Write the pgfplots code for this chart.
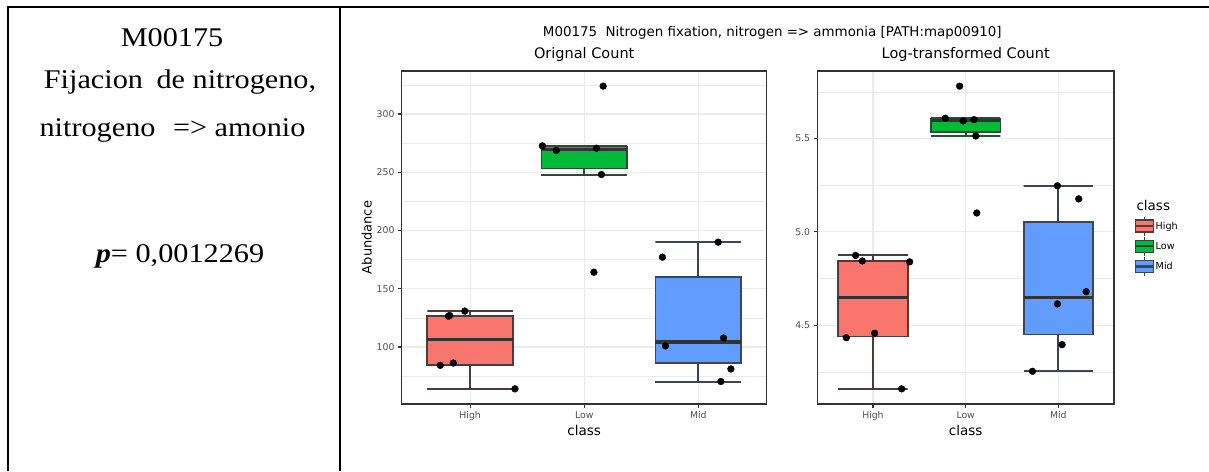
\documentclass[border=0pt]{standalone}
\usepackage{pgfplots}
\pgfplotsset{compat=1.18}
\usepackage{fontspec}
\setmainfont{Liberation Serif}
\newfontfamily\cellfont[FakeStretch=1.12]{Liberation Serif}
\newfontfamily\chartfont{DejaVu Sans}
\definecolor{hifill}{HTML}{F8766D}
\definecolor{lofill}{HTML}{00BA38}
\definecolor{midfill}{HTML}{619CFF}
\definecolor{hibord}{HTML}{4E3A3A}
\definecolor{lobord}{HTML}{2A4A33}
\definecolor{midbord}{HTML}{3B4759}
\definecolor{c333}{HTML}{333333}
\definecolor{c4d}{HTML}{4D4D4D}
\definecolor{gridc}{HTML}{EBEBEB}

\pgfplotsset{
  ggbox/.style={
    scale only axis, height=333pt,
    xmin=0.4, xmax=3.6, xtick={1,2,3}, xticklabels={High,Low,Mid},
    tick pos=left, tick align=outside, major tick length=3.7pt, minor tick length=0pt,
    axis line style={draw=c333, line width=1.5pt},
    tick style={draw=c333, line width=1.2pt},
    ymajorgrids, yminorgrids, xmajorgrids,
    major grid style={draw=gridc, line width=1.2pt},
    minor grid style={draw=gridc, line width=0.6pt},
    ticklabel style={font=\chartfont\fontsize{9.3}{10}\selectfont, text=c4d},
    clip=false,
  },
  wh/.style={forget plot, line width=2pt, line join=miter},
  bx/.style={forget plot, line width=1.8pt},
  md/.style={forget plot, draw=c333, line width=3.2pt},
  dots/.style={forget plot, only marks, mark=*, mark size=3.4pt, draw=black, fill=black, mark options={draw=black, fill=black}},
}

\begin{document}
\begin{tikzpicture}
\path[use as bounding box] (0pt,0pt) rectangle (1209pt,471pt);

% table frame
\draw[line width=2.2pt] (8pt,464pt) -- (1209pt,464pt);
\draw[line width=2.2pt] (8pt,465pt) -- (8pt,0pt);
\draw[line width=2.2pt] (340pt,465pt) -- (340pt,0pt);

% left cell text
\node[anchor=base, font=\cellfont\fontsize{27}{32}\selectfont] at (172pt,424pt) {M00175};
\node[anchor=base, font=\cellfont\fontsize{27}{32}\selectfont] at (180pt,382pt) {Fijacion\hspace{6pt} de nitrogeno,};
\node[anchor=base, font=\cellfont\fontsize{27}{32}\selectfont] at (172.5pt,334pt) {nitrogeno\hspace{10pt} => amonio};
\node[anchor=base, font=\cellfont\fontsize{27}{32}\selectfont] at (180pt,208pt) {\textbf{\textit{p}}= 0,0012269};

% overall title and labels
\node[font=\chartfont\fontsize{13.4}{15}\selectfont] at (772.3pt,438pt) {M00175\ \ Nitrogen fixation, nitrogen => ammonia [PATH:map00910]};
\node[font=\chartfont\fontsize{14.5}{16}\selectfont] at (584.2pt,416pt) {Orignal Count};
\node[font=\chartfont\fontsize{14.5}{16}\selectfont] at (965.7pt,416pt) {Log-transformed Count};
\node[rotate=90, font=\chartfont\fontsize{13}{15}\selectfont] at (366.7pt,233.5pt) {Abundance};
\node[font=\chartfont\fontsize{13.5}{15}\selectfont] at (584.2pt,41pt) {class};
\node[font=\chartfont\fontsize{13.5}{15}\selectfont] at (965.7pt,41pt) {class};

% ---------- Original count ----------
\begin{axis}[ggbox, at={(401.7pt,67pt)}, anchor=south west, width=365pt,
  ymin=51, ymax=337,
  ytick={100,150,200,250,300}, yticklabels={100,150,200,250,300},
  minor ytick={75,125,175,225,275,325}]
% High
\addplot[wh, draw=hibord] coordinates {(0.625,64) (1.375,64) (1,64) (1,84.7)};
\addplot[wh, draw=hibord] coordinates {(1,126.85) (1,130.8) (0.625,130.8) (1.375,130.8)};
\addplot[bx, draw=hibord, fill=hifill] coordinates {(0.625,84.7) (1.375,84.7) (1.375,126.85) (0.625,126.85)} -- cycle;
\addplot[md] coordinates {(0.625,106.3) (1.375,106.3)};
% Low
\addplot[wh, draw=lobord] coordinates {(1.625,248.1) (2.375,248.1) (2,248.1) (2,253.25)};
\addplot[wh, draw=lobord] coordinates {(2,272.2) (2,272.7) (1.625,272.7) (2.375,272.7)};
\addplot[bx, draw=lobord, fill=lofill] coordinates {(1.625,253.25) (2.375,253.25) (2.375,272.2) (1.625,272.2)} -- cycle;
\addplot[md] coordinates {(1.625,269.7) (2.375,269.7)};
% Mid
\addplot[wh, draw=midbord] coordinates {(2.625,70.3) (3.375,70.3) (3,70.3) (3,86.05)};
\addplot[wh, draw=midbord] coordinates {(3,159.75) (3,190) (2.625,190) (3.375,190)};
\addplot[bx, draw=midbord, fill=midfill] coordinates {(2.625,86.05) (3.375,86.05) (3.375,159.75) (2.625,159.75)} -- cycle;
\addplot[md] coordinates {(2.625,104.3) (3.375,104.3)};
% points
\addplot[dots] coordinates {
  (0.738,84.2) (0.852,86.2) (0.81,126.4) (0.82,127) (0.953,130.8) (1.393,64)
  (1.633,272.7) (1.755,268.7) (2.107,270.7) (2.151,248.1) (2.085,164.2) (2.166,324)
  (2.686,177.1) (3.175,190) (2.712,100.9) (3.222,107.7) (3.286,81.1) (3.198,70.3)
};
\end{axis}

% ---------- Log-transformed count ----------
\begin{axis}[ggbox, at={(817.3pt,67pt)}, anchor=south west, width=296.7pt,
  ymin=4.0778, ymax=5.8618,
  ytick={4.5,5,5.5}, yticklabels={4.5,5.0,5.5},
  minor ytick={4.25,4.75,5.25,5.75},
  legend style={at={(1.0675,0.5646)}, anchor=north west, draw=none, fill=none,
    inner sep=0pt, font=\chartfont\fontsize{9.6}{10}\selectfont, row sep=0pt,
    nodes={inner sep=1.2pt}},
  legend cell align=left,
  legend image code/.code={
    \draw[#1, line width=1.5pt] (9pt,-9.3pt) -- (9pt,9.3pt);
    \draw[#1, line width=1.5pt] (0pt,-6pt) rectangle (18pt,6pt);
    \draw[#1, line width=2.3pt] (0pt,0pt) -- (18pt,0pt);
  }]
% High
\addplot[wh, draw=hibord] coordinates {(0.625,4.1589) (1.375,4.1589) (1,4.1589) (1,4.4391)};
\addplot[wh, draw=hibord] coordinates {(1,4.8430) (1,4.8737) (0.625,4.8737) (1.375,4.8737)};
\addplot[bx, draw=hibord, fill=hifill] coordinates {(0.625,4.4391) (1.375,4.4391) (1.375,4.8430) (0.625,4.8430)} -- cycle;
\addplot[md] coordinates {(0.625,4.6481) (1.375,4.6481)};
% Low
\addplot[wh, draw=lobord] coordinates {(1.625,5.5139) (2.375,5.5139) (2,5.5139) (2,5.5339)};
\addplot[wh, draw=lobord] coordinates {(2,5.6066) (2,5.6084) (1.625,5.6084) (2.375,5.6084)};
\addplot[bx, draw=lobord, fill=lofill] coordinates {(1.625,5.5339) (2.375,5.5339) (2.375,5.6066) (1.625,5.6066)} -- cycle;
\addplot[md] coordinates {(1.625,5.5974) (2.375,5.5974)};
% Mid
\addplot[wh, draw=midbord] coordinates {(2.625,4.2528) (3.375,4.2528) (3,4.2528) (3,4.4503)};
\addplot[wh, draw=midbord] coordinates {(3,5.0524) (3,5.2470) (2.625,5.2470) (3.375,5.2470)};
\addplot[bx, draw=midbord, fill=midfill] coordinates {(2.625,4.4503) (3.375,4.4503) (3.375,5.0524) (2.625,5.0524)} -- cycle;
\addplot[md] coordinates {(2.625,4.6467) (3.375,4.6467)};
% points
\addplot[dots] coordinates {
  (0.713,4.4332) (1.018,4.4567) (0.813,4.8737) (0.885,4.8442) (1.396,4.8394) (1.31,4.1589)
  (1.935,5.7807) (1.78,5.6084) (1.974,5.5937) (2.09,5.6010) (2.11,5.5139) (2.12,5.1011)
  (2.72,4.2528) (2.99,4.6141) (3.04,4.3957) (3.30,4.6793) (2.99,5.2470) (3.22,5.1767)
};
\addlegendimage{draw=hibord, fill=hifill}
\addlegendentry{High}
\addlegendimage{draw=lobord, fill=lofill}
\addlegendentry{Low}
\addlegendimage{draw=midbord, fill=midfill}
\addlegendentry{Mid}
\node[anchor=west, font=\chartfont\fontsize{13.5}{15}\selectfont] at (rel axis cs:1.064,0.5976) {class};
\end{axis}
\end{tikzpicture}
\end{document}
